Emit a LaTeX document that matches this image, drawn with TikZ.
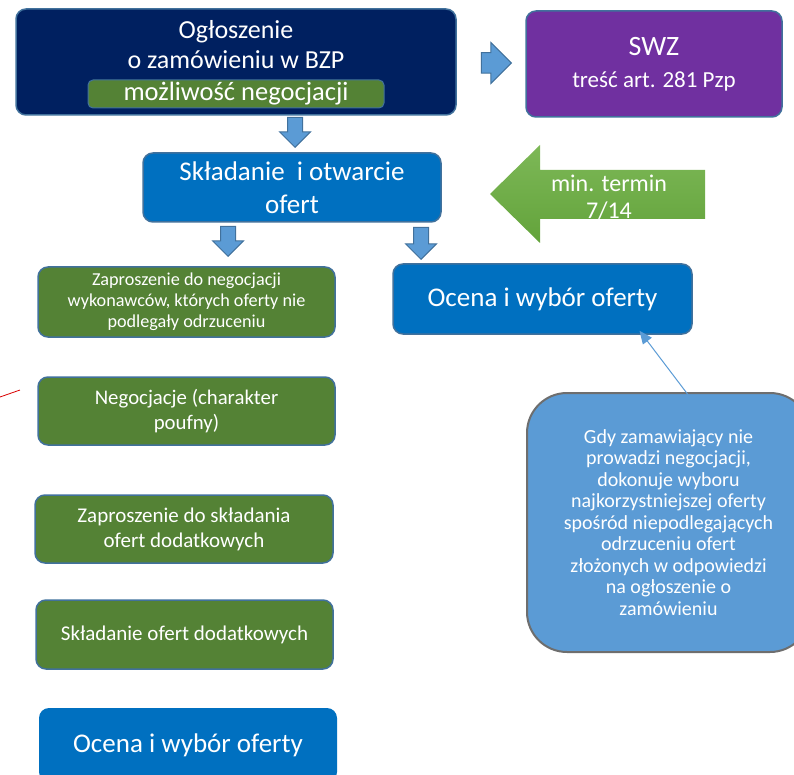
\documentclass[tikz,border=0pt]{standalone}
\usepackage{fontspec}
\setmainfont{Carlito}
\usetikzlibrary{arrows.meta,shapes.arrows,positioning}
\definecolor{navy}{HTML}{002060}
\definecolor{plum}{HTML}{7030A0}
\definecolor{midblue}{HTML}{0070C0}
\definecolor{leaf}{HTML}{548235}
\definecolor{edgeblue}{HTML}{41719C}
\definecolor{skyblue}{HTML}{5B9BD5}
\definecolor{limetop}{HTML}{7DB857}
\definecolor{limebot}{HTML}{63A33B}
\definecolor{cgray}{HTML}{6E6E6E}
\newcommand{\fs}[2]{\fontsize{#1}{#2}\selectfont}

\begin{document}
\begin{tikzpicture}[x=1pt, y=-1pt, every node/.style={text=white, align=center, inner sep=0pt}]
\tikzset{box/.style={draw=edgeblue, line width=1.5pt, rounded corners=10pt},
  blockarrow/.style={single arrow, draw=edgeblue, fill=skyblue, line width=1pt, inner sep=7pt,
    single arrow head extend=8pt, anchor=tip}}
\useasboundingbox (0,0) rectangle (794,775);
% top row
\node[box, fill=navy, minimum width=440pt, minimum height=106pt] (ogl) at (236,62) {};
\node[font=\fs{26}{30}] (ogltxt) at (236,45) {Ogłoszenie\\o zamówieniu w BZP};
\node[draw=edgeblue, line width=1pt, rounded corners=5pt, fill=leaf, minimum width=296pt, minimum height=28pt,
  font=\fs{26.5}{30}] (neg) at (236,94) {możliwość negocjacji};
\node[box, fill=plum, minimum width=256pt, minimum height=106pt, font=\fs{28}{32}] (swz) at (654,64)
  {SWZ\\{\fs{23}{32}treść art. 281 Pzp}};
\node[blockarrow, shape border rotate=0, minimum height=30pt, minimum width=41pt, inner sep=7.5pt] (toswz) at (512,63) {};
% second row
\node[blockarrow, shape border rotate=270, minimum height=30pt, minimum width=26pt] (tosk) at (295,148) {};
\node[box, fill=midblue, minimum width=298pt, minimum height=69pt, font=\fs{27}{33}] (skl) at (292,187.5)
  {Składanie~~i otwarcie\\ofert};
\coordinate (termintip) at (490,194);
\path[top color=limetop, bottom color=limebot] (termintip) -- ++(50,-49) -- ++(0,25) -- ++(165,0)
  -- ++(0,49) -- ++(-165,0) -- ++(0,24) -- cycle;
\node[font=\fs{24}{27}] (termintxt) at (609,197) {min. termin\\7/14};
% branches
\node[blockarrow, shape border rotate=270, minimum height=30pt, minimum width=24pt] (tozap) at (228,257) {};
\node[blockarrow, shape border rotate=270, minimum height=32pt, minimum width=25pt] (tooc) at (421,260) {};
\node[box, fill=leaf, minimum width=297pt, minimum height=70pt, font=\fs{18.2}{21}] (zap) at (186.5,302)
  {Zaproszenie do negocjacji\\wykonawców, których oferty nie\\podlegały odrzuceniu};
\node[box, fill=midblue, minimum width=299pt, minimum height=70pt, font=\fs{27}{30}] (ocena) at (542.5,299)
  {Ocena i wybór oferty};
\node[draw=cgray, line width=2pt, fill=skyblue, rounded corners=40pt, minimum width=283pt, minimum height=259pt,
  font=\fs{20}{21.5}] (gdy) at (668.5,522.5)
  {Gdy zamawiający nie\\prowadzi negocjacji,\\dokonuje wyboru\\najkorzystniejszej oferty\\spośród niepodlegających\\odrzuceniu ofert\\złożonych w odpowiedzi\\na ogłoszenie o\\zamówieniu};
\draw[skyblue, line width=1pt, -{Triangle[length=13pt, width=11pt]}] ([xshift=22pt, yshift=-6pt]gdy.north)
  -- ([xshift=97pt, yshift=4pt]ocena.south);
% left column
\node[box, fill=leaf, minimum width=297pt, minimum height=68pt, font=\fs{20.8}{25}] (nego) at (186.5,411)
  {Negocjacje (charakter\\poufny)};
\coordinate (redA) at (0,397);
\coordinate (redB) at (20,390);
\draw[red!85!black, line width=0.8pt] (redA) -- (redB);
\node[box, fill=leaf, minimum width=298pt, minimum height=68pt, font=\fs{21}{25}] (zapd) at (184,529)
  {Zaproszenie do składania\\ofert dodatkowych};
\node[box, fill=leaf, minimum width=297pt, minimum height=69pt, font=\fs{21}{25}] (skld) at (184.5,634.5)
  {Składanie ofert dodatkowych};
\node[fill=midblue, rounded corners=10pt, minimum width=298pt, minimum height=74pt, font=\fs{27}{30}] (ocenab) at (188,745)
  {Ocena i wybór oferty};
\end{tikzpicture}
\end{document}
